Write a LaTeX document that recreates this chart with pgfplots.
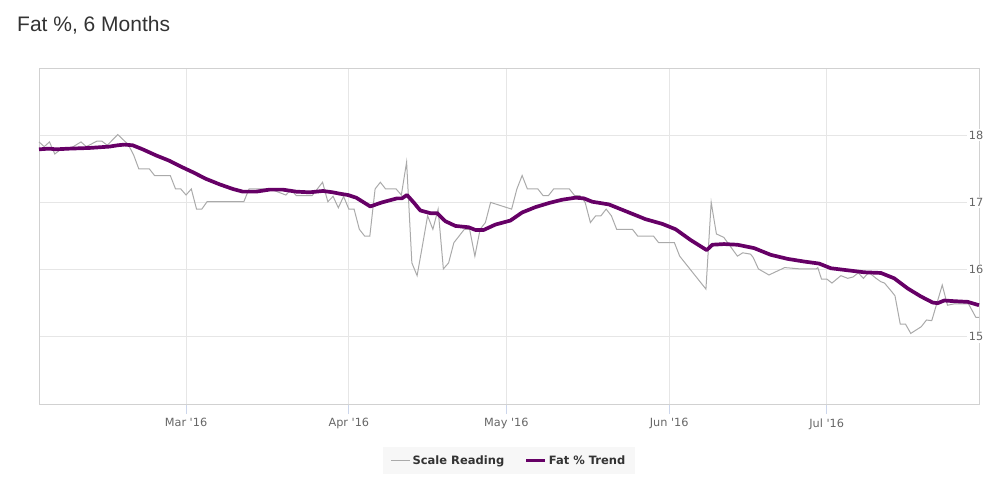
\documentclass[border=0pt]{standalone}
\usepackage{fontspec}
\usepackage{pgfplots}
\pgfplotsset{compat=1.18}
\setmainfont{DejaVu Sans}
\newfontfamily\tickfont{DejaVu Sans}
\newfontfamily\titlefont{Liberation Sans}
\definecolor{trendpurple}{HTML}{660066}
\definecolor{scalegray}{HTML}{AAAAAA}
\definecolor{gridc}{HTML}{E6E6E6}
\definecolor{tickc}{HTML}{CCD6EB}
\definecolor{labc}{HTML}{666666}
\definecolor{titc}{HTML}{333333}
\definecolor{legbg}{HTML}{F7F7F7}
\begin{document}
\begin{tikzpicture}[x=1pt,y=1pt]
\path[use as bounding box] (0,0) rectangle (999,480);
\node[anchor=base west, font={\titlefont\fontsize{21}{24}\selectfont}, text=titc, inner sep=0] at (17,448) {Fat \%, 6 Months};
\begin{axis}[
  at={(39pt,76pt)}, anchor=south west,
  scale only axis, width=940pt, height=336pt,
  xmin=-28, xmax=151, ymin=14, ymax=19,
  xtick={0,31,61,92,122},
  xticklabels={Mar '16,Apr '16,May '16,Jun '16,Jul '16},
  ytick={15,16,17,18},
  ytick pos=right, yticklabel pos=right,
  xtick pos=bottom,
  tick align=outside,
  major tick length=10pt,
  xtick style={draw=tickc, line width=1pt},
  ytick style={draw=none},
  grid=major,
  major grid style={draw=gridc, line width=0.8pt},
  axis line style={draw=black!18, line width=0.8pt},
  /pgf/number format/assume math mode=true,
  xticklabel style={font={\tickfont\fontsize{11.3}{13}\selectfont}, text=labc, yshift=-1pt},
  yticklabel style={font={\tickfont\fontsize{11.3}{13}\selectfont}, text=labc, anchor=east, xshift=-4pt, fill=white, inner sep=1.5pt},
  legend style={at={(0.5,-0.168)}, anchor=center, legend columns=2, fill=legbg, draw=none,
    font={\bfseries\fontsize{11.5}{13}\selectfont}, text=titc,
    inner xsep=8pt, inner ysep=6pt,
    /tikz/every even column/.append style={column sep=18pt}},
  legend image code/.code={\draw[#1] (0pt,0pt) -- (19pt,0pt);},
  clip=false,
]
\addplot[draw=scalegray, line width=1pt] coordinates {
(-28,17.90) (-27,17.83) (-26,17.90) (-25,17.72) (-24,17.78) (-22.1,17.80)
(-20,17.90) (-19,17.83) (-17,17.91) (-16,17.91) (-15,17.85) (-13,18.01)
(-11,17.86) (-10,17.71) (-9,17.50) (-7,17.50) (-6,17.40) (-3,17.40)
(-2,17.20) (-1,17.20) (0,17.11) (1,17.20) (2,16.90) (3,16.90) (4,17.01)
(11,17.01) (12,17.20) (16,17.20) (19,17.11) (20,17.19) (21,17.10) (24,17.10)
(26,17.30) (27,17.01) (28,17.09) (29,16.92) (30,17.09) (31,16.90) (32,16.90)
(33,16.60) (34,16.50) (35,16.50) (36,17.20) (37,17.30) (38,17.20) (40,17.20)
(41,17.11) (42,17.60) (43,16.10) (44,15.91) (45,16.35) (46,16.80) (47,16.60)
(48,16.90) (49,16.01) (50,16.10) (51,16.40) (52,16.50) (53,16.60) (54,16.60)
(55,16.20) (56,16.60) (57,16.70) (58,17.00) (62,16.90) (63,17.20) (64,17.40)
(65,17.20) (67,17.20) (68,17.10) (69,17.10) (70,17.20) (73,17.20) (74,17.10)
(75,17.10) (76,17.00) (77,16.70) (78,16.80) (79,16.80) (80,16.90) (81,16.80)
(82,16.60) (85,16.60) (86,16.50) (89,16.50) (90,16.40) (93,16.40) (94,16.20)
(99,15.71) (100,17.00) (101,16.53) (102.4,16.48) (105,16.20) (106,16.25)
(107.5,16.23) (108,16.18) (109,16.01) (111,15.92) (114,16.03) (117,16.01)
(120,16.01) (120.3,16.03) (121,15.86) (122,15.86) (123,15.80) (124.7,15.91)
(126,15.87) (127,15.89) (128,15.95) (129,15.87) (130,15.96) (131.4,15.87)
(132.3,15.82) (133,15.80) (134.4,15.67) (135,15.61) (136,15.19) (137,15.19)
(138,15.05) (140,15.15) (141,15.25) (142,15.24) (144,15.77) (145,15.47)
(146.3,15.49) (149,15.49) (150.4,15.29) (151,15.29)
};
\addlegendentry{Scale Reading}
\addplot[draw=trendpurple, line width=3.7pt, line join=round] coordinates {
(-28,17.79) (-26.06,17.80) (-24.79,17.79) (-22.25,17.80) (-18.44,17.81)
(-14.62,17.83) (-13.02,17.85) (-11.76,17.86) (-10.16,17.85) (-8.26,17.79)
(-5.72,17.70) (-3.18,17.62) (-0.63,17.52) (1.28,17.45) (3.81,17.35)
(6.35,17.27) (8.90,17.20) (10.81,17.16) (13.35,17.16) (15.88,17.19)
(18.44,17.19) (20.97,17.16) (23.51,17.15) (26.06,17.17) (27.97,17.15)
(29.23,17.13) (30.83,17.11) (32.41,17.07) (35.08,16.94) (37.31,17.00)
(40.17,17.06) (41.12,17.06) (42.08,17.11) (43.34,17.00) (44.61,16.88)
(46.52,16.84) (47.80,16.84) (49.38,16.72) (51.29,16.65) (53.82,16.63)
(55.10,16.59) (56.68,16.59) (58.91,16.67) (61.77,16.73) (64.0,16.85)
(66.54,16.93) (69.08,16.99) (71.63,17.04) (74.17,17.07) (75.75,17.06)
(77.35,17.01) (80.51,16.97) (83.70,16.87) (87.51,16.75) (90.70,16.68)
(93.23,16.60) (96.09,16.44) (99.14,16.29) (100.23,16.37) (102.44,16.38)
(105.0,16.37) (108.16,16.32) (111.34,16.22) (114.53,16.16) (117.69,16.12)
(120.55,16.09) (122.78,16.02) (125.97,15.99) (129.13,15.96) (132.32,15.95)
(134.86,15.87) (137.41,15.72) (139.94,15.60) (142.17,15.51) (143.12,15.50)
(144.38,15.54) (146.29,15.53) (148.84,15.52) (151,15.47)
};
\addlegendentry{Fat \% Trend}
\end{axis}
\end{tikzpicture}
\end{document}
